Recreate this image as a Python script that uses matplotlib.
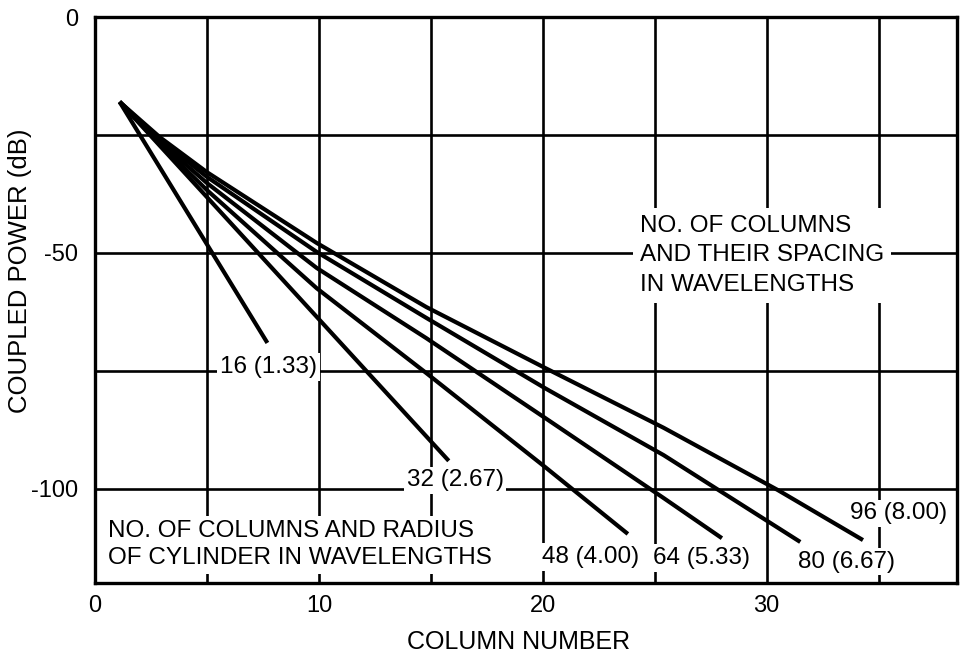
import matplotlib
matplotlib.use("Agg")
import matplotlib.pyplot as plt
from matplotlib.ticker import MultipleLocator, FixedLocator

plt.rcParams['font.family'] = ['Liberation Sans', 'DejaVu Sans']
plt.rcParams['axes.unicode_minus'] = False

# Coupled power along the column index, one curve per array size
x16 = [1.1, 7.7]
p16 = [-18.0, -69.1]

x32 = [1.1, 15.8]
p32 = [-18.0, -94.1]

x48 = [1.1, 2.9, 5.0, 9.9, 14.8, 20.1, 23.8]
p48 = [-18.0, -27.0, -36.7, -57.5, -75.5, -95.4, -109.6]

x64 = [1.1, 2.9, 5.0, 9.9, 14.8, 20.1, 25.4, 28.0]
p64 = [-18.0, -26.5, -35.2, -53.2, -68.1, -85.0, -102.0, -110.5]

x80 = [1.1, 2.9, 5.0, 9.9, 14.8, 20.1, 25.4, 31.5]
p80 = [-18.0, -26.0, -33.9, -49.8, -63.8, -78.7, -92.9, -111.3]

x96 = [1.1, 2.9, 5.0, 9.9, 14.8, 20.1, 25.4, 30.5, 34.3]
p96 = [-18.0, -25.5, -32.9, -47.9, -61.5, -74.4, -87.1, -100.3, -110.9]

curve_labels = ["16 (1.33)", "32 (2.67)", "48 (4.00)",
                "64 (5.33)", "80 (6.67)", "96 (8.00)"]

x_ticks = [0, 10, 20, 30]
y_ticks = [0, -50, -100]
y_tick_labels = ["0", "-50", "-100"]

# where each curve label sits (left edge, vertical centre)
label_pos = [(5.58, -74.2), (13.92, -98.2), (19.96, -114.5),
             (24.92, -114.7), (31.4, -115.5), (33.72, -105.2)]

W, H = 963, 661
fig = plt.figure(figsize=(W / 100, H / 100), dpi=100)
ax = fig.add_axes([95 / W, 1 - 583 / H, (957 - 95) / W, (583 - 17) / H])

ax.set_xlim(0, 38.5)
ax.set_ylim(-120, 0)

ax.xaxis.set_major_locator(FixedLocator(x_ticks))
ax.xaxis.set_minor_locator(MultipleLocator(5))
ax.yaxis.set_major_locator(FixedLocator(y_ticks))
ax.set_yticklabels(y_tick_labels)
ax.yaxis.set_minor_locator(MultipleLocator(25))

ax.set_axisbelow(True)
ax.grid(which='both', color='black', linewidth=1.9)
ax.tick_params(which='both', length=0)
ax.tick_params(axis='x', labelsize=17, pad=9)
ax.tick_params(axis='y', labelsize=17, pad=12)
for s in ax.spines.values():
    s.set_linewidth(2.4)
    s.set_zorder(5)

for xs, ps in [(x16, p16), (x32, p32), (x48, p48),
               (x64, p64), (x80, p80), (x96, p96)]:
    ax.plot(xs, ps, color='black', linewidth=3.0, solid_capstyle='butt',
            solid_joinstyle='round', zorder=4)

box = dict(facecolor='white', edgecolor='none', pad=2)
for text, (tx, ty) in zip(curve_labels, label_pos):
    ax.text(tx, ty, text, fontsize=17.5, ha='left', va='center',
            bbox=box, zorder=3)

ax.text(24.34, -50.5, "NO. OF COLUMNS\nAND THEIR SPACING\nIN WAVELENGTHS",
        fontsize=17.5, ha='left', va='center', linespacing=1.44,
        bbox=dict(facecolor='white', edgecolor='none', pad=5), zorder=3)

ax.text(0.57, -111.9, "NO. OF COLUMNS AND RADIUS\nOF CYLINDER IN WAVELENGTHS",
        fontsize=17.5, ha='left', va='center', linespacing=1.31,
        bbox=dict(facecolor='white', edgecolor='none', pad=3), zorder=3)

fig.text(519 / W, 1 - 642 / H, "COLUMN NUMBER", fontsize=18,
         ha='center', va='center')
fig.text(20 / W, 1 - 271 / H, "COUPLED POWER (dB)", fontsize=18.5,
         rotation=90, ha='center', va='center')

fig.savefig("out.png", dpi=100, facecolor='white')
